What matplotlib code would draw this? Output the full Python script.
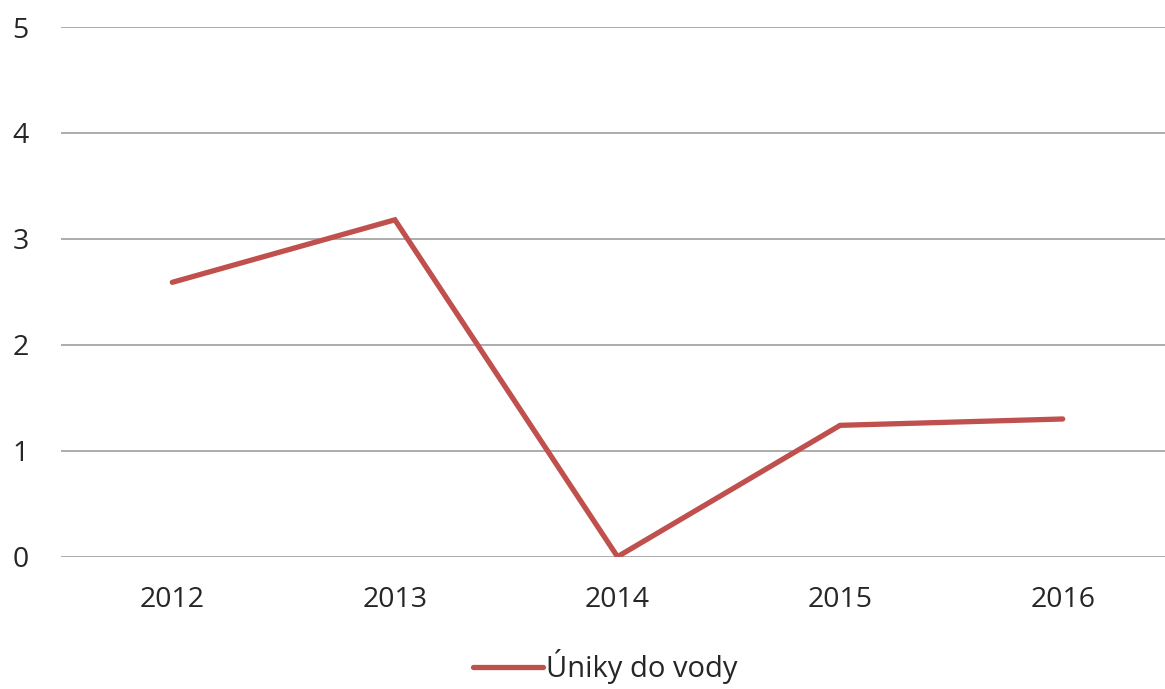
import matplotlib
matplotlib.use("Agg")
import matplotlib.pyplot as plt

categories = ["2012", "2013", "2014", "2015", "2016"]
values = [2.59, 3.18, 0.0, 1.24, 1.30]
series_name = "Úniky do vody"
yticks = [0, 1, 2, 3, 4, 5]

plt.rcParams['font.family'] = ['Open Sans', 'DejaVu Sans']

W, H = 1165, 689
fig = plt.figure(figsize=(W/100, H/100), dpi=100)
left, right = 61/W, 1174/W
bottom, top = 1 - 556.7/H, 1 - 27/H
ax = fig.add_axes([left, bottom, right-left, top-bottom])

x = list(range(len(categories)))
line, = ax.plot(x, values, color="#C0504D", linewidth=3.8, solid_capstyle="round",
                solid_joinstyle="miter", label=series_name, zorder=3)

ax.set_xlim(-0.5, len(categories)-0.5)
ax.set_ylim(0, 5)
ax.set_yticks(yticks)
ax.set_xticks(x)
ax.set_xticklabels(categories)
ax.yaxis.grid(True, color="#A6A6A6", linewidth=1.3)
ax.set_axisbelow(True)
for s in ax.spines.values():
    s.set_visible(False)
ax.tick_params(axis="both", length=0, labelsize=20.5, colors="#262626")
ax.tick_params(axis="y", pad=29)
ax.tick_params(axis="x", pad=21)
for lbl in ax.get_yticklabels():
    lbl.set_horizontalalignment("center")

leg = fig.legend(handles=[line], labels=[series_name], loc="center",
                 bbox_to_anchor=(605/W, 1 - 667/H), frameon=False,
                 fontsize=21, handlelength=2.4, handletextpad=0.1)
for t in leg.get_texts():
    t.set_color("#262626")

fig.savefig("out.png", dpi=100)
